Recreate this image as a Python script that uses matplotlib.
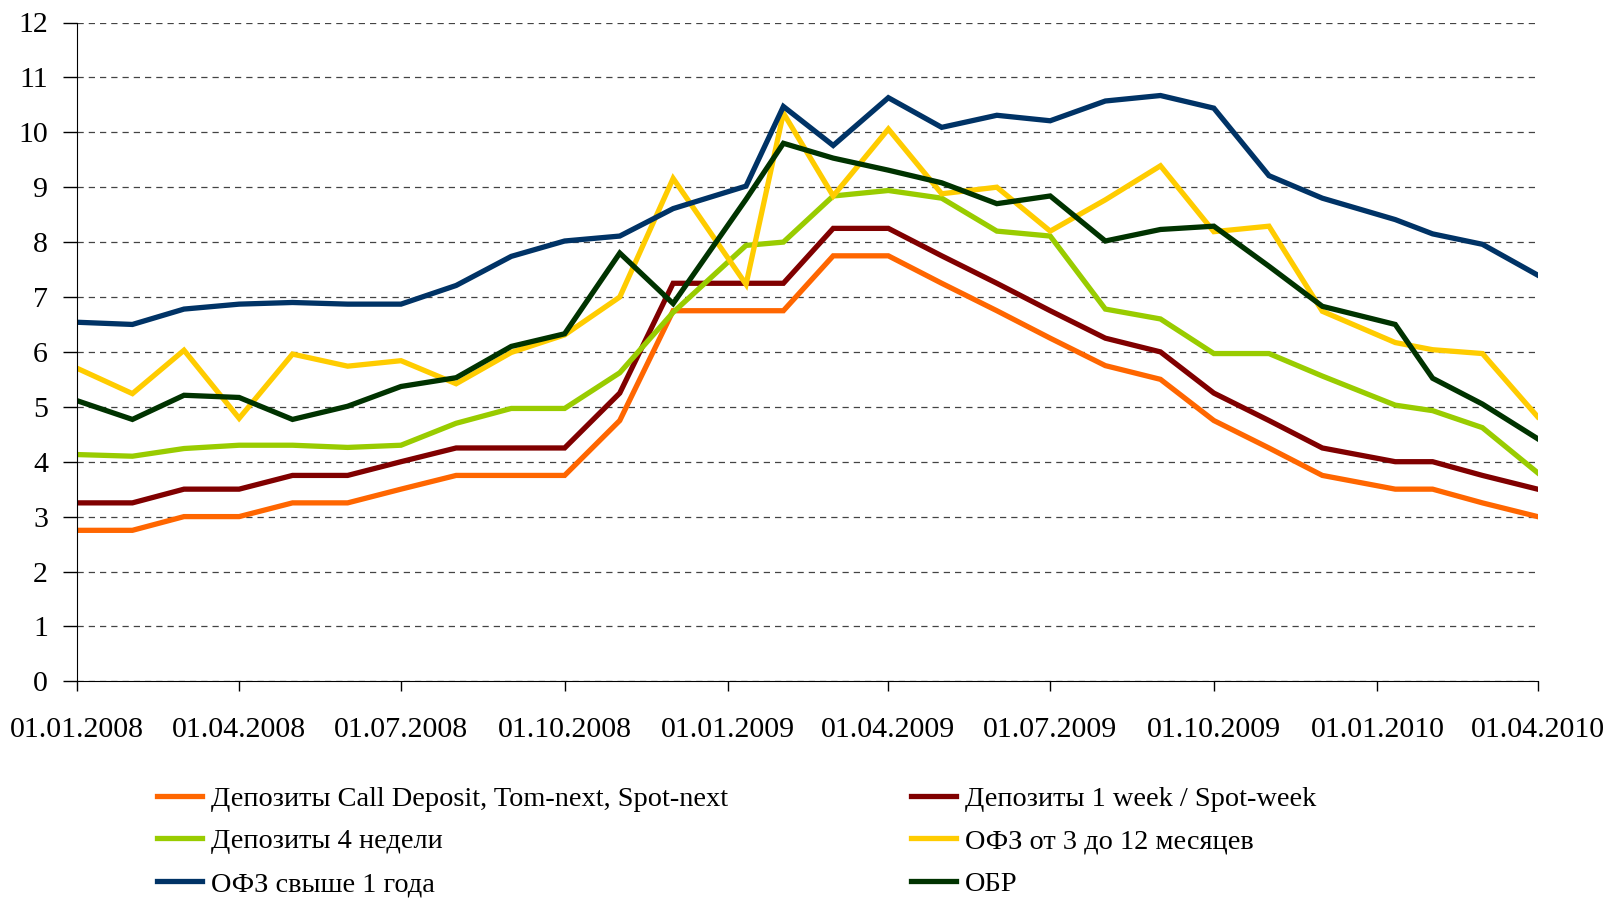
import numpy as np
import matplotlib.pyplot as plt
import matplotlib.dates as mdates
from datetime import date

plt.rcParams['font.family'] = ['Liberation Serif', 'DejaVu Serif']

# observation dates (first trading day of each month)
dates = [date(2008, m, 1) for m in range(1, 13)] + \
        [date(2009, 1, 11)] + [date(2009, m, 1) for m in range(2, 13)] + \
        [date(2010, 1, 11)] + [date(2010, m, 1) for m in range(2, 5)]

call_dep = [2.75, 2.75, 3.0, 3.0, 3.25, 3.25, 3.5, 3.75, 3.75, 3.75, 4.75, 6.75,
            6.75, 6.75, 7.75, 7.75, 7.25, 6.75, 6.25, 5.75, 5.5, 4.75, 4.25, 3.75,
            3.5, 3.5, 3.25, 3.0]
week_dep = [3.25, 3.25, 3.5, 3.5, 3.75, 3.75, 4.0, 4.25, 4.25, 4.25, 5.25, 7.25,
            7.25, 7.25, 8.25, 8.25, 7.75, 7.25, 6.75, 6.25, 6.0, 5.25, 4.75, 4.25,
            4.0, 4.0, 3.75, 3.5]
dep_4w = [4.13, 4.10, 4.24, 4.30, 4.30, 4.26, 4.30, 4.70, 4.97, 4.97, 5.62, 6.72,
          7.94, 8.0, 8.84, 8.94, 8.80, 8.20, 8.11, 6.78, 6.60, 5.97, 5.97, 5.56,
          5.03, 4.93, 4.62, 3.80]
ofz_short = [5.70, 5.24, 6.03, 4.79, 5.96, 5.74, 5.84, 5.42, 5.99, 6.31, 7.0, 9.16,
             7.23, 10.35, 8.84, 10.06, 8.88, 9.0, 8.2, 8.77, 9.39, 8.19, 8.29, 6.74,
             6.17, 6.04, 5.97, 4.82]
ofz_long = [6.54, 6.50, 6.78, 6.87, 6.90, 6.87, 6.87, 7.21, 7.74, 8.02, 8.11, 8.61,
            9.02, 10.47, 9.76, 10.63, 10.09, 10.31, 10.21, 10.57, 10.67, 10.44, 9.21, 8.80,
            8.41, 8.15, 7.96, 7.40]
obr = [5.11, 4.77, 5.21, 5.17, 4.77, 5.01, 5.37, 5.53, 6.10, 6.33, 7.80, 6.88,
       8.78, 9.80, 9.53, 9.31, 9.08, 8.70, 8.84, 8.02, 8.23, 8.29, 7.56, 6.83,
       6.50, 5.52, 5.05, 4.42]

labels = ['Депозиты Call Deposit, Tom-next, Spot-next', 'Депозиты 1 week / Spot-week',
          'Депозиты 4 недели', 'ОФЗ от 3 до 12 месяцев', 'ОФЗ свыше 1 года', 'ОБР']
colors = ['#FF6600', '#800000', '#99CC00', '#FFCC00', '#003366', '#003300']
series = [call_dep, week_dep, dep_4w, ofz_short, ofz_long, obr]

fig = plt.figure(figsize=(16.1, 9), dpi=100)
ax = fig.add_axes([0.048, 0.243, 0.907, 0.732])

lines = []
for vals, c, lab in zip(series, colors, labels):
    ln, = ax.plot(dates, vals, color=c, lw=3.8, label=lab, solid_joinstyle='miter')
    lines.append(ln)

ax.set_ylim(0, 12)
ax.set_yticks(range(0, 13))
ax.set_xlim(date(2008, 1, 1), date(2010, 4, 1))
ticks = [date(y, m, 1) for y in (2008, 2009, 2010) for m in (1, 4, 7, 10)]
ticks = [t for t in ticks if t <= date(2010, 4, 1)]
ax.set_xticks(ticks)
ax.xaxis.set_major_formatter(mdates.DateFormatter('%d.%m.%Y'))

ax.grid(axis='y', color='#444444', linestyle=(0, (5, 4)), linewidth=0.9)
ax.set_axisbelow(True)
for s in ('top', 'right'):
    ax.spines[s].set_visible(False)
ax.spines['left'].set_color('black')
ax.spines['bottom'].set_color('black')
ax.tick_params(axis='y', direction='out', length=10, width=1, pad=11, labelsize=21.5)
ax.tick_params(axis='x', direction='out', length=7, width=1, pad=19, labelsize=21.5)

order = [0, 2, 4, 1, 3, 5]
fig.legend([lines[i] for i in order], [labels[i] for i in order],
           ncol=2, loc='upper left', bbox_to_anchor=(0.0975, 0.127),
           frameon=False, fontsize=20.4, handlelength=1.6, handletextpad=0.3,
           columnspacing=6.45, labelspacing=0.6, borderpad=0, borderaxespad=0)

fig.savefig('out.png', dpi=100)
